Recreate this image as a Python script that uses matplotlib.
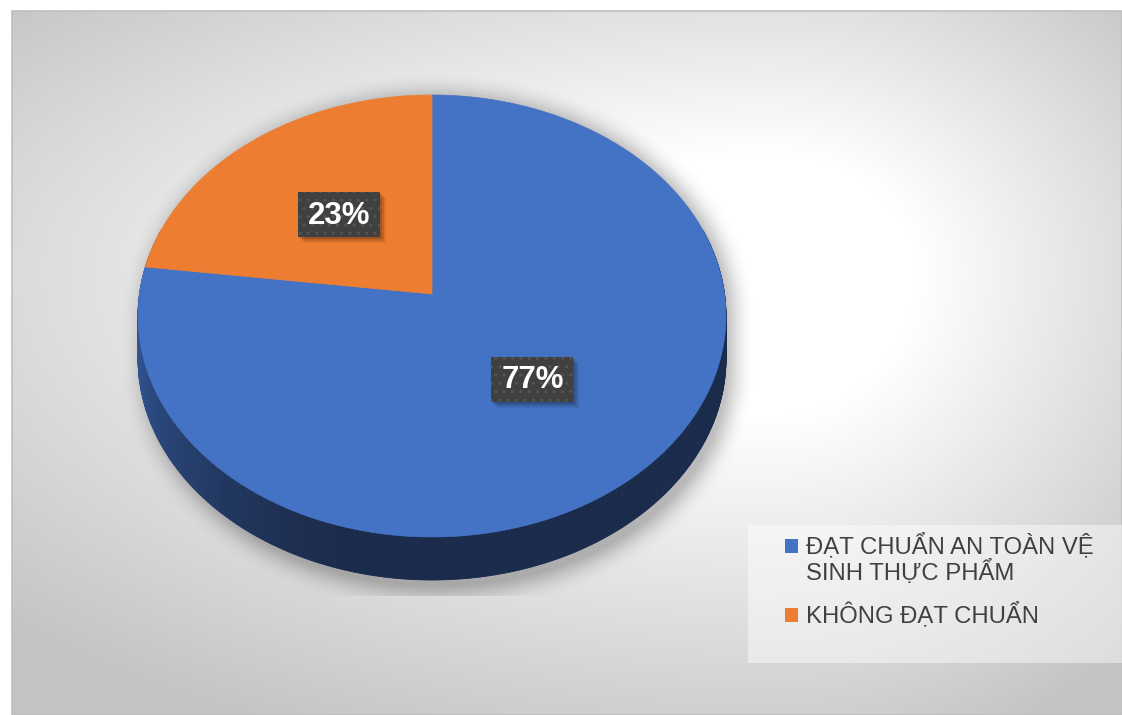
import textwrap
import numpy as np
import matplotlib.pyplot as plt
from matplotlib.colors import to_rgb
from matplotlib.patches import Polygon, Rectangle
from matplotlib.path import Path
from matplotlib.collections import PolyCollection

# --------------------
# Data
categories = ["ĐẠT CHUẨN AN TOÀN VỆ SINH THỰC PHẨM", "KHÔNG ĐẠT CHUẨN"]
values = [77, 23]
colors = ["#4472C4", "#ED7D31"]
side_dark = ["#1B2B4B", "#7a3c12"]
side_light = ["#3A64AD", "#b35c20"]

plt.rcParams['font.family'] = ['Liberation Sans', 'DejaVu Sans']

W, H = 1122, 715

# pie geometry (pixels), simple perspective of a tilted disc
CX, CY = 432, 294
SX, SY = 292.5, 218.8
K = 0.0995
DEPTH = 43


def project(phi, r=1.0):
    """Map angle (clockwise from top) and radius on the disc to pixels."""
    X = r * np.sin(phi)
    Y = -r * np.cos(phi)
    w = 1 - K * Y
    return CX + SX * X / w, CY + SY * Y / w


def blur(a, r):
    k = np.ones(2 * r + 1) / (2 * r + 1)
    a = np.apply_along_axis(lambda m: np.convolve(m, k, mode='same'), 0, a)
    return np.apply_along_axis(lambda m: np.convolve(m, k, mode='same'), 1, a)


fig = plt.figure(figsize=(W / 100, H / 100), dpi=100)
ax = fig.add_axes([0, 0, 1, 1])
ax.set_xlim(0, W)
ax.set_ylim(H, 0)
ax.axis('off')

# --------------------
# Background gradient inside the chart area (white spot right of the pie)
yy, xx = np.mgrid[0:H, 0:W] + 0.5
gx, gy = 770, 270
rx = np.where(xx < gx, 850, 420)
ry = np.where(yy < gy, 330, 420)
d = np.hypot((xx - gx) / rx, (yy - gy) / ry)
grey = 255 - 60 * np.clip((d - 0.35) / 0.9, 0, 1)
grey[(xx < 12) | (yy < 11)] = 255
bg = np.dstack([grey] * 3) / 255
ax.imshow(bg, extent=(0, W, H, 0), zorder=0, interpolation='bilinear')
ax.add_patch(Rectangle((12, 11), W - 12, H - 11, fill=False,
                       ec='#bfbfbf', lw=1.2, zorder=0.5))

# --------------------
# Soft shadow under the pie
rim_phi = np.linspace(0, 2 * np.pi, 361)
rx_, ry_ = project(rim_phi)
rim_path = Path(np.column_stack([rx_, ry_]))
pts = np.column_stack([xx.ravel(), yy.ravel()])
top_mask = rim_path.contains_points(pts).reshape(H, W)
sil = top_mask.copy()
for dd in range(1, DEPTH + 12):
    sil[dd:] |= top_mask[:-dd]
sil = np.roll(sil, 6, axis=1).astype(float)
soft = blur(sil, 14)
soft = blur(soft, 10)
alpha = 0.24 * np.clip(soft * 1.5, 0, 1)
alpha[yy > 596] = 0
shadow = np.zeros((H, W, 4))
shadow[..., 3] = alpha
ax.imshow(shadow, extent=(0, W, H, 0), zorder=1, interpolation='bilinear')

# --------------------
# Slices
fracs = np.array(values) / np.sum(values)
bounds = np.concatenate([[0], np.cumsum(fracs)]) * 2 * np.pi

# side walls
quads, qcols, depths = [], [], []
phis = np.linspace(0, 2 * np.pi, 721)
for i in range(len(phis) - 1):
    p0, p1 = phis[i], phis[i + 1]
    mid = 0.5 * (p0 + p1)
    if -np.cos(mid) < -0.3:
        continue
    s = np.searchsorted(bounds, mid) - 1
    x0, y0 = project(p0)
    x1, y1 = project(p1)
    quads.append([(x0, y0), (x1, y1), (x1, y1 + DEPTH), (x0, y0 + DEPTH)])
    t = np.clip((np.degrees(mid) - 195) / 83, 0, 1) ** 1.3
    c0 = np.array(to_rgb(side_dark[s]))
    c1 = np.array(to_rgb(side_light[s]))
    qcols.append(c0 + (c1 - c0) * t)
    depths.append(-np.cos(mid))
order = np.argsort(depths)
ax.add_collection(PolyCollection([quads[i] for i in order],
                                 facecolors=[qcols[i] for i in order],
                                 edgecolors=[qcols[i] for i in order],
                                 lw=0.6, zorder=2))

# top faces
for i in range(len(values)):
    ph = np.linspace(bounds[i], bounds[i + 1], 200)
    px, py = project(ph)
    poly = np.vstack([[CX, CY], np.column_stack([px, py])])
    ax.add_patch(Polygon(poly, closed=True, fc=colors[i], ec=colors[i],
                         lw=0.5, zorder=3))

# data labels
for i, v in enumerate(values):
    mid = 0.5 * (bounds[i] + bounds[i + 1])
    lx, ly = project(mid, 0.5)
    bw, bh = 82, 45
    for off, a in [(6, 0.08), (4, 0.12), (2, 0.15)]:
        ax.add_patch(Rectangle((lx - bw / 2 + off, ly - bh / 2 + off), bw, bh,
                               fc='black', alpha=a, lw=0, zorder=4))
    ax.add_patch(Rectangle((lx - bw / 2, ly - bh / 2), bw, bh,
                           fc='#404040', ec='#545454', hatch='..', lw=0,
                           zorder=5))
    ax.text(lx, ly + 1, f"{round(100 * fracs[i])}%", color='white',
            fontsize=22.5, fontweight='bold', ha='center', va='center',
            zorder=6)

# --------------------
# Legend
ax.add_patch(Rectangle((748, 525), W - 748, 138, fc='white', alpha=0.45,
                       lw=0, zorder=1.5))
leg_y = [546, 615]
for i, lab in enumerate(categories):
    ax.add_patch(Rectangle((785, leg_y[i] - 7), 13, 14, fc=colors[i],
                           lw=0, zorder=6))
    ax.text(806, leg_y[i] - 13, textwrap.fill(lab, 20), color='#404040',
            fontsize=17.2, ha='left', va='top', linespacing=1.05,
            zorder=6)

fig.savefig('out.png', dpi=100)
